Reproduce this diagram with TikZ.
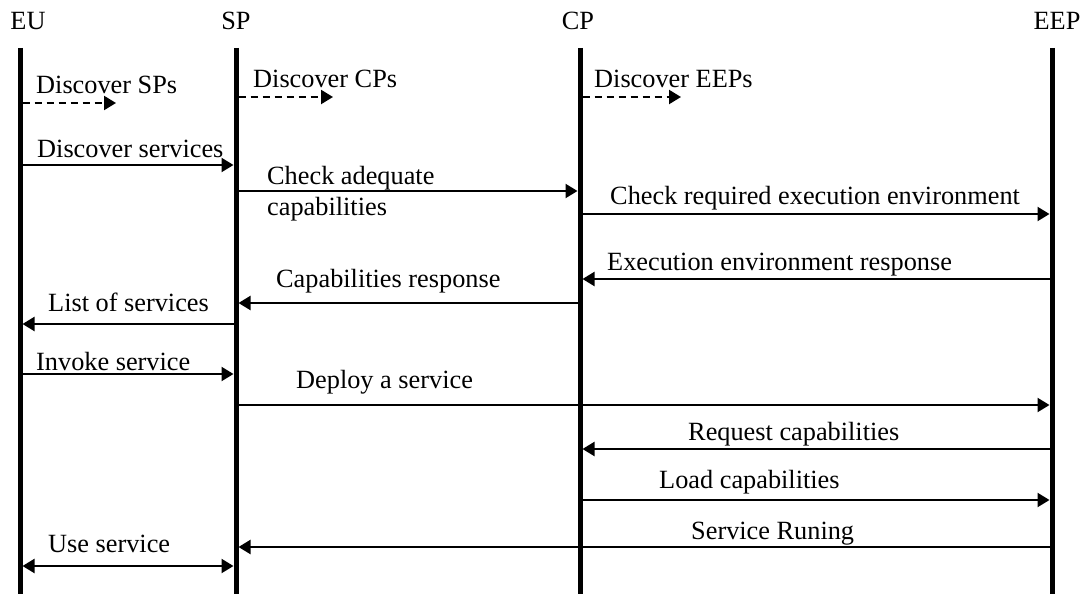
\documentclass[tikz,border=0pt]{standalone}
\usepackage{fontspec}
\setmainfont{Liberation Serif}
\usetikzlibrary{arrows.meta}
\begin{document}
\begin{tikzpicture}[x=1pt,y=-1pt,
  lbl/.style={anchor=base west,inner sep=0pt,font=\fontsize{26.3}{31}\selectfont},
  head/.style={anchor=base,inner sep=0pt,font=\fontsize{26.3}{31}\selectfont},
  life/.style={line width=5pt},
  tip/.style={},
  msg/.style={line width=2.2pt,-{Triangle[length=12pt,width=14pt]},shorten >=2.5pt,shorten <=2.5pt},
  bimsg/.style={line width=2.2pt,{Triangle[length=12pt,width=14pt]}-{Triangle[length=12pt,width=14pt]},shorten >=2.5pt,shorten <=2.5pt},
  dmsg/.style={line width=2.2pt,dash pattern=on 7pt off 5pt,-{Triangle[length=12pt,width=14pt]},shorten <=2.5pt}]
\useasboundingbox (0,0) rectangle (1083,594);
% headers
\node[head] (hEU)  at (28,30)   {EU};
\node[head] (hSP)  at (236,30)  {SP};
\node[head] (hCP)  at (578,30)  {CP};
\node[head] (hEEP) at (1057,30) {EEP};
% lifelines
\coordinate (EUt) at (20,48);   \coordinate (EUb) at (20,594);
\coordinate (SPt) at (236,48);  \coordinate (SPb) at (236,594);
\coordinate (CPt) at (580,48);  \coordinate (CPb) at (580,594);
\coordinate (EEPt) at (1052,48);\coordinate (EEPb) at (1052,594);
\draw[life] (EUt) -- (EUb);
\draw[life] (SPt) -- (SPb);
\draw[life] (CPt) -- (CPb);
\draw[life] (EEPt) -- (EEPb);
% dashed discoveries
\coordinate (d1) at (116,103);
\coordinate (d2) at (333,97);
\coordinate (d3) at (681,97);
\draw[dmsg] (EUt |- d1) -- (d1);
\draw[dmsg] (SPt |- d2) -- (d2);
\draw[dmsg] (CPt |- d3) -- (d3);
\node[lbl] (l1) at (36,93)  {Discover SPs};
\node[lbl] (l2) at (253,87) {Discover CPs};
\node[lbl] (l3) at (594,87) {Discover EEPs};
% message rows
\coordinate (m1) at (0,165);
\coordinate (m2) at (0,191);
\coordinate (m3) at (0,214);
\coordinate (m4) at (0,279);
\coordinate (m5) at (0,303);
\coordinate (m6) at (0,324);
\coordinate (m7) at (0,374);
\coordinate (m8) at (0,405);
\coordinate (m9) at (0,449);
\coordinate (m10) at (0,500);
\coordinate (m11) at (0,547);
\coordinate (m12) at (0,566);
\draw[msg] (EUt |- m1) -- (SPt |- m1);
\draw[msg] (SPt |- m2) -- (CPt |- m2);
\draw[msg] (CPt |- m3) -- (EEPt |- m3);
\draw[msg] (EEPt |- m4) -- (CPt |- m4);
\draw[msg] (CPt |- m5) -- (SPt |- m5);
\draw[msg] (SPt |- m6) -- (EUt |- m6);
\draw[msg] (EUt |- m7) -- (SPt |- m7);
\draw[msg] (SPt |- m8) -- (EEPt |- m8);
\draw[msg] (EEPt |- m9) -- (CPt |- m9);
\draw[msg] (CPt |- m10) -- (EEPt |- m10);
\draw[msg] (EEPt |- m11) -- (SPt |- m11);
\draw[bimsg] (EUt |- m12) -- (SPt |- m12);
% labels
\node[lbl] (t1)  at (37,157)  {Discover services};
\node[lbl] (t2a) at (267,184) {Check adequate};
\node[lbl] (t2b) at (267,215) {capabilities};
\node[lbl] (t3)  at (610,204) {Check required execution environment};
\node[lbl] (t4)  at (607,270) {Execution environment response};
\node[lbl] (t5)  at (276,287) {Capabilities response};
\node[lbl] (t6)  at (48,311)  {List of services};
\node[lbl] (t7)  at (36,370)  {Invoke service};
\node[lbl] (t8)  at (296,388) {Deploy a service};
\node[lbl] (t9)  at (688,440) {Request capabilities};
\node[lbl] (t10) at (659,488) {Load capabilities};
\node[lbl] (t11) at (691,539) {Service Runing};
\node[lbl] (t12) at (48,552)  {Use service};
\end{tikzpicture}
\end{document}
